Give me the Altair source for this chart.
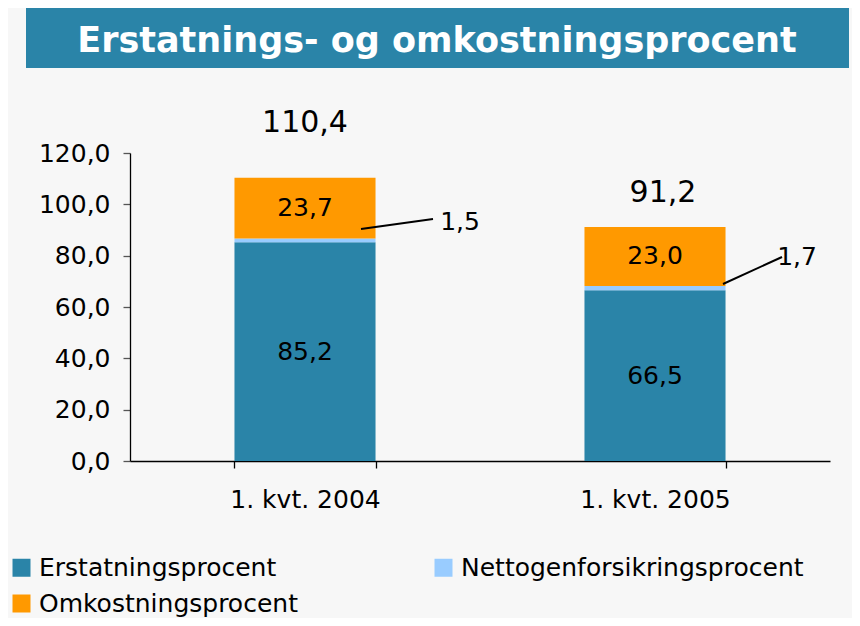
import altair as alt
import pandas as pd

# ---- data ----
categories = ["1. kvt. 2004", "1. kvt. 2005"]
series = ["Erstatningsprocent", "Nettogenforsikringsprocent", "Omkostningsprocent"]
erstatning = [85.2, 66.5]
netto = [1.5, 1.7]
omkost = [23.7, 23.0]
totals = [110.4, 91.2]
title_text = "Erstatnings- og omkostningsprocent"
y_ticks = [0, 20, 40, 60, 80, 100, 120]

colors = ["#2A84A8", "#99CCFF", "#FF9900"]
FONT = "DejaVu Sans"


def fmt(v):
    return f"{v:.1f}".replace(".", ",")


rows = []
for i, c in enumerate(categories):
    vals = [erstatning[i], netto[i], omkost[i]]
    base = 0.0
    for k, s in enumerate(series):
        rows.append({"cat": c, "series": s, "value": vals[k], "idx": k,
                     "mid": base + vals[k] / 2, "top": base + vals[k],
                     "label": fmt(vals[k])})
        base += vals[k]
df = pd.DataFrame(rows)
tot_df = pd.DataFrame({"cat": categories, "total": totals,
                       "label": [fmt(t) for t in totals]})

xenc = alt.X("cat:N", sort=categories,
             scale=alt.Scale(paddingInner=0.597, paddingOuter=0.2985),
             axis=alt.Axis(title=None, labelAngle=0, tickBand="extent", tickSize=7,
                           labelPadding=19, labelFontSize=25, labelFont=FONT,
                           labelColor="#000000", domainColor="#000000",
                           tickColor="#000000", domainWidth=1.3, tickWidth=1.3))

bars = alt.Chart(df).mark_bar().encode(
    x=xenc,
    y=alt.Y("value:Q", stack="zero",
            scale=alt.Scale(domain=[0, 120], nice=False),
            axis=alt.Axis(title=None, values=y_ticks, grid=False, tickSize=7,
                          labelPadding=13, labelFontSize=25, labelFont=FONT,
                          labelColor="#000000", domainColor="#000000",
                          tickColor="#555555", domainWidth=1.3, tickWidth=1.3,
                          labelExpr="replace(format(datum.value, '.1f'), '.', ',')")),
    color=alt.Color("series:N",
                    scale=alt.Scale(domain=series, range=colors),
                    legend=alt.Legend(title=None, orient="none", legendX=-121, legendY=402,
                                      direction="horizontal", columns=2,
                                      columnPadding=133, rowPadding=10,
                                      symbolType="square", symbolSize=324,
                                      symbolStrokeWidth=0, labelOffset=5,
                                      labelFontSize=25, labelFont=FONT,
                                      labelColor="#000000", labelLimit=600,
                                      padding=0)),
    order=alt.Order("idx:Q"),
)

inner = alt.Chart(df).transform_filter(alt.datum.idx != 1).mark_text(
    fontSize=25, font=FONT, color="#000000", baseline="middle"
).encode(
    x=alt.X("cat:N", sort=categories),
    y=alt.Y("mid:Q"),
    text="label:N",
)

# total labels above the bars (placed as in the reference)
tot1 = alt.Chart(tot_df).transform_filter(alt.datum.cat == categories[0]).mark_text(
    fontSize=30, font=FONT, color="#000000", baseline="middle", dy=-55
).encode(x=alt.X("cat:N", sort=categories), y="total:Q", text="label:N")
tot2 = alt.Chart(tot_df).transform_filter(alt.datum.cat == categories[1]).mark_text(
    fontSize=30, font=FONT, color="#000000", baseline="middle", dy=-34, dx=8
).encode(x=alt.X("cat:N", sort=categories), y="total:Q", text="label:N")

# small segment labels with leader lines
net_df = df[df["idx"] == 1]
small1 = alt.Chart(net_df).transform_filter(alt.datum.cat == categories[0]).mark_text(
    fontSize=25, font=FONT, color="#000000", baseline="middle", dx=155, dy=-18
).encode(x=alt.X("cat:N", sort=categories), y="mid:Q", text="label:N")
small2 = alt.Chart(net_df).transform_filter(alt.datum.cat == categories[1]).mark_text(
    fontSize=25, font=FONT, color="#000000", baseline="middle", dx=142, dy=-31
).encode(x=alt.X("cat:N", sort=categories), y="mid:Q", text="label:N")

one = pd.DataFrame({"a": [0]})
lead1 = alt.Chart(one).mark_rule(color="#000000", strokeWidth=2).encode(
    x=alt.value(231), x2=alt.value(303), y=alt.value(76), y2=alt.value(66))
lead2 = alt.Chart(one).mark_rule(color="#000000", strokeWidth=2).encode(
    x=alt.value(593), x2=alt.value(652), y=alt.value(131), y2=alt.value(104))

# title banner
banner = alt.Chart(one).mark_rect(color="#2A84A8").encode(
    x=alt.value(-104), x2=alt.value(719), y=alt.value(-145), y2=alt.value(-85))
title = alt.Chart(pd.DataFrame({"t": [title_text]})).mark_text(
    fontSize=35, font=FONT, fontWeight="bold", color="#FFFFFF", baseline="middle",
    align="center"
).encode(x=alt.value(307), y=alt.value(-112), text="t:N")

chart = alt.layer(
    banner, title, bars, inner, tot1, tot2, small1, small2, lead1, lead2
).properties(
    width=700, height=308,
    padding={"left": 122, "top": 145, "right": 22, "bottom": 157},
    autosize=alt.AutoSizeParams(type="none"),
    background="#F7F7F7",
).configure_view(stroke=None)

chart.save("out.html", embed_options={"renderer": "svg", "actions": False})
